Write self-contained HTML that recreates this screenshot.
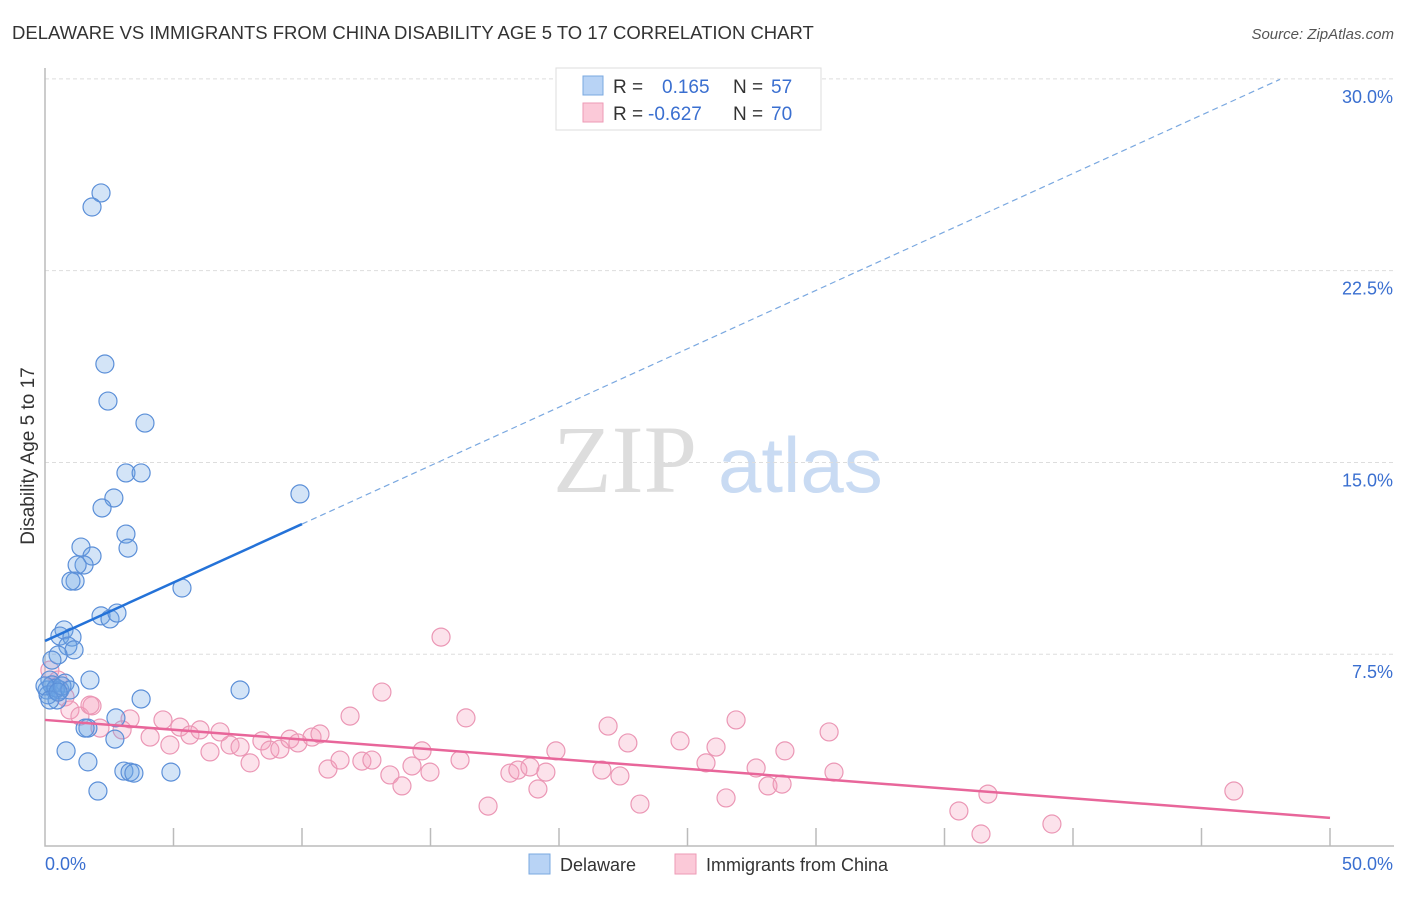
<!DOCTYPE html>
<html><head><meta charset="utf-8"><style>
body{margin:0;background:#fff;font-family:"Liberation Sans",sans-serif}
</style></head><body>
<svg id="chart" width="1406" height="892" xmlns="http://www.w3.org/2000/svg" font-family="Liberation Sans, sans-serif">
<text x="12" y="39" font-size="18.5" fill="#333">DELAWARE VS IMMIGRANTS FROM CHINA DISABILITY AGE 5 TO 17 CORRELATION CHART</text>
<text x="1394" y="39" font-size="15" fill="#555" font-style="italic" text-anchor="end">Source: ZipAtlas.com</text>
<g>
<text x="553" y="492" font-size="96" font-family="Liberation Serif, serif" fill="#ddd">ZIP</text>
<text x="718" y="492" font-size="78" fill="#c9dbf3">atlas</text>
</g>
<g id="grid"></g>
<g id="axes"></g>
<g id="marks"></g>
<g>
<rect x="556" y="68" width="265" height="62" fill="#fff" stroke="#ddd"/>
<rect x="583" y="76" width="20" height="19" fill="#b8d3f5" stroke="#7aa8e0"/>
<rect x="583" y="103" width="20" height="19" fill="#fbc9d8" stroke="#ee9ab6"/>
<text x="613" y="93" font-size="19" fill="#333">R =</text>
<text x="662" y="93" font-size="19" fill="#3a6fd0">0.165</text>
<text x="733" y="93" font-size="19" fill="#333">N =</text>
<text x="771" y="93" font-size="19" fill="#3a6fd0">57</text>
<text x="613" y="120" font-size="19" fill="#333">R =</text>
<text x="648" y="120" font-size="19" fill="#3a6fd0">-0.627</text>
<text x="733" y="120" font-size="19" fill="#333">N =</text>
<text x="771" y="120" font-size="19" fill="#3a6fd0">70</text>
</g>
<g>
<rect x="529" y="854" width="21" height="20" fill="#b8d3f5" stroke="#7aa8e0"/>
<text x="560" y="871" font-size="18" fill="#333">Delaware</text>
<rect x="675" y="854" width="21" height="20" fill="#fbc9d8" stroke="#ee9ab6"/>
<text x="706" y="871" font-size="18" fill="#333">Immigrants from China</text>
</g>
<text transform="translate(34,456) rotate(-90)" font-size="19" fill="#333" text-anchor="middle">Disability Age 5 to 17</text>
</svg>
<script>
const blueX=[2.18,1.83,2.33,2.45,3.89,3.15,3.74,2.68,2.22,3.15,3.23,1.40,1.83,1.52,1.25,1.17,1.01,5.33,9.92,2.18,2.53,2.80,0.74,0.58,1.05,0.89,1.13,0.51,0.27,0.19,0.39,0.78,1.75,0.08,0.47,3.74,7.59,2.76,1.67,1.56,2.72,0.82,1.67,3.07,3.31,3.46,4.90,2.06,0.27,0.58,0.12,0.43,0.66,0.0,0.19,0.97,0.51];
const blueY=[25.54,24.99,18.85,17.40,16.54,14.59,14.59,13.61,13.22,12.20,11.65,11.69,11.34,10.99,10.99,10.36,10.36,10.09,13.77,9.00,8.88,9.11,8.45,8.21,8.17,7.82,7.67,7.47,7.27,6.49,6.10,6.37,6.49,6.10,5.71,5.75,6.10,5.01,4.61,4.61,4.18,3.72,3.29,2.93,2.89,2.85,2.89,2.15,6.30,6.10,5.91,6.18,6.26,6.26,5.71,6.10,6.02];
const pinkX=[15.41,13.11,0.19,0.51,0.78,0.97,1.36,1.83,2.14,1.75,3.31,3.00,4.59,4.09,4.86,5.25,5.64,6.03,6.42,6.81,7.20,7.59,7.98,8.44,8.75,9.14,9.53,9.84,10.39,10.70,11.01,11.48,11.87,12.33,12.72,13.42,13.89,14.28,14.67,14.98,16.15,16.38,17.24,18.09,18.40,18.87,19.18,19.49,19.88,21.67,21.91,22.37,22.68,23.15,24.71,25.72,26.11,26.50,26.89,27.67,28.13,28.68,28.79,30.51,30.70,35.56,36.42,36.69,39.18,46.26];
const pinkY=[8.17,6.02,6.88,6.49,5.83,5.32,5.08,5.48,4.61,5.51,4.97,4.54,4.93,4.26,3.95,4.65,4.34,4.54,3.68,4.46,3.95,3.87,3.25,4.11,3.75,3.79,4.18,4.03,4.26,4.38,3.01,3.36,5.08,3.32,3.36,2.78,2.35,3.13,3.72,2.89,3.36,5.01,1.56,2.85,2.97,3.09,2.23,2.89,3.72,2.97,4.69,2.74,4.03,1.64,4.11,3.25,3.87,1.88,4.93,3.05,2.35,2.42,3.72,4.46,2.89,1.37,0.47,2.03,0.86,2.15];
const yTicks=[7.5,15,22.5,30];
const yTickLabels=["7.5%","15.0%","22.5%","30.0%"];
const blueLine=[0,8.02,10,12.59,48.05,29.98];
const pinkLine=[0,4.93,50,1.10];
const NS="http://www.w3.org/2000/svg";
const X=v=>45+v*25.7, Y=v=>846-v*25.57;
function mk(tag,attrs,parent){const e=document.createElementNS(NS,tag);for(const k in attrs)e.setAttribute(k,attrs[k]);parent.appendChild(e);return e;}
const grid=document.getElementById('grid'),axes=document.getElementById('axes'),marks=document.getElementById('marks');
yTicks.forEach((t,i)=>{
 const l=mk('line',{x1:45,x2:1394,y1:Y(t),y2:Y(t),stroke:'#ddd','stroke-dasharray':'4,3'},grid);
 
 
 const tx=mk('text',{x:1393,y:Y(t)+24,'font-size':18,fill:'#3a6fd0','text-anchor':'end'},axes);
 tx.textContent=yTickLabels[i];
 
 
});
const ax=mk('path',{d:'M45,68V846H1394',fill:'none',stroke:'#bbb','stroke-width':1.5},axes);


for(let v=5;v<=50;v+=5){const t=mk('line',{x1:X(v),x2:X(v),y1:846,y2:828,stroke:'#bbb','stroke-width':1.5},axes);
 
 }
const xl0=mk('text',{x:45,y:870,'font-size':18,fill:'#3a6fd0'},axes);xl0.textContent='0.0%';


const xl1=mk('text',{x:1393,y:870,'font-size':18,fill:'#3a6fd0','text-anchor':'end'},axes);xl1.textContent='50.0%';


pinkX.forEach((v,i)=>{const c=mk('circle',{cx:X(v),cy:Y(pinkY[i]),r:9,fill:'rgba(245,160,190,0.3)',stroke:'#eb97b5','stroke-width':1.2},marks);
 
 });
blueX.forEach((v,i)=>{const c=mk('circle',{cx:X(v),cy:Y(blueY[i]),r:9,fill:'rgba(110,165,230,0.3)',stroke:'#5b8fd8','stroke-width':1.2},marks);
 
 });
const bl=mk('line',{x1:X(blueLine[0]),y1:Y(blueLine[1]),x2:X(blueLine[2]),y2:Y(blueLine[3]),stroke:'#2472d8','stroke-width':2.5},marks);


const bd=mk('line',{x1:X(blueLine[2]),y1:Y(blueLine[3]),x2:X(blueLine[4]),y2:Y(blueLine[5]),stroke:'#7aa8e0','stroke-width':1.2,'stroke-dasharray':'6,4'},marks);


const pl=mk('line',{x1:X(pinkLine[0]),y1:Y(pinkLine[1]),x2:X(pinkLine[2]),y2:Y(pinkLine[3]),stroke:'#e8669a','stroke-width':2.5},marks);


</script>
</body></html>
